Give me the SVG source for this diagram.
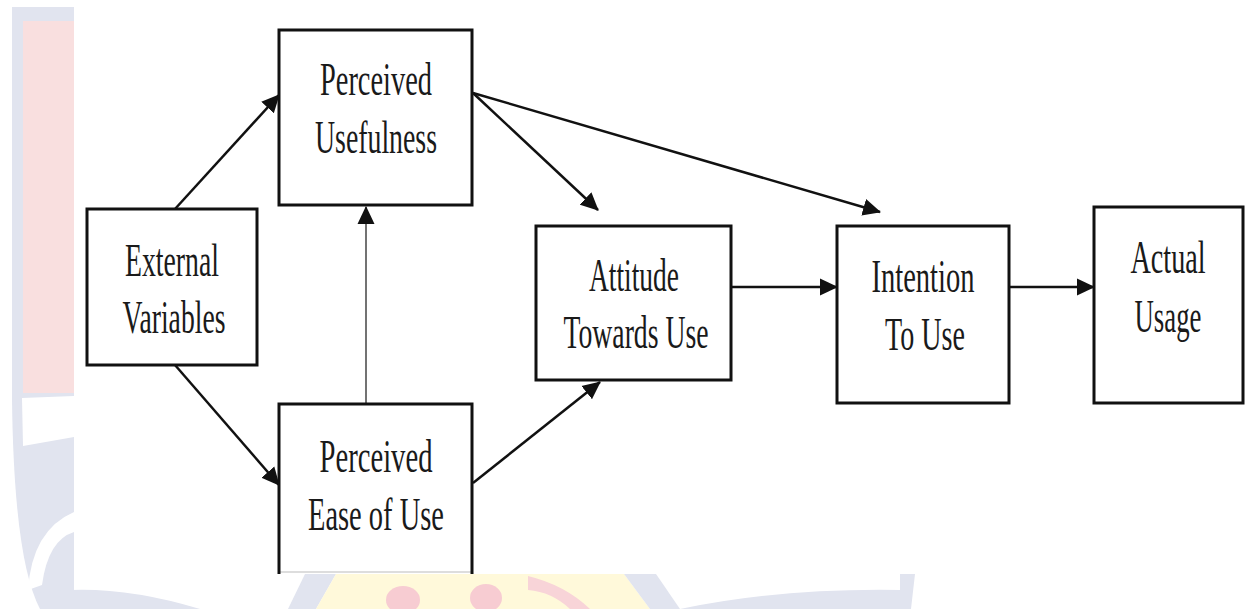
<svg xmlns="http://www.w3.org/2000/svg" width="1245" height="609" viewBox="0 0 1245 609">
  <defs>
    <marker id="arrow" markerUnits="userSpaceOnUse" markerWidth="18" markerHeight="18" viewBox="0 0 18 18" refX="17" refY="9" orient="auto">
      <path d="M0,0.5 L18,9 L0,17.5 Z" fill="#111"/>
    </marker>
    <style>
      .box { fill: #ffffff; stroke: #111; stroke-width: 3; }
      .lbl { font-family: "Liberation Serif", "Times New Roman", serif; font-size: 47px; fill: #1a1a1a; text-anchor: middle; }
      .edge { stroke: #111; stroke-width: 2.5; fill: none; marker-end: url(#arrow); }
      .thin { stroke: #444; stroke-width: 1.5; fill: none; marker-end: url(#arrow); }
    </style>
  </defs>

  <rect x="0" y="0" width="1245" height="609" fill="#ffffff"/>

  <g id="watermark">
    <path d="M12,7 L74,7 L74,609 L40,609 Q14,560 12,400 Z" fill="#e1e4ef"/>
    <rect x="23" y="21" width="51" height="372" fill="#f9dfdf"/>
    <path d="M22,398 L74,396 L74,437 L23,446 Z" fill="#ffffff"/>
    <path d="M74,512 L74,532 Q48,540 42,585 L28,590 Q32,530 74,512 Z" fill="#ffffff"/>
    <path d="M40,593 Q110,582 200,609 L40,609 Z" fill="#e1e4ef"/>
    <path d="M305,574 L336,574 L316,609 L288,609 Z" fill="#e1e4ef"/>
    <path d="M336,574 L624,574 L650,609 L316,609 Z" fill="#fff9da"/>
    <ellipse cx="403" cy="600" rx="17" ry="14" fill="#f7ccd2"/>
    <ellipse cx="486" cy="598" rx="16" ry="14" fill="#f7ccd2"/>
    <path d="M528,576 Q565,585 590,609 L570,609 Q552,592 528,590 Z" fill="#f8d4d8"/>
    <path d="M624,574 L656,574 L680,609 L650,609 Z" fill="#e1e4ef"/>
    <path d="M680,609 Q780,588 900,590 L900,574 L915,574 L911,609 Z" fill="#e1e4ef"/>
  </g>

  <rect x="74" y="0" width="1171" height="574" fill="#ffffff"/>

  <g id="connectors">
    <line class="edge" x1="175" y1="209" x2="279" y2="95"/>
    <line class="edge" x1="175" y1="365" x2="279" y2="485"/>
    <line class="thin" x1="366" y1="404" x2="366" y2="207"/>
    <line class="edge" x1="473" y1="93" x2="598" y2="210"/>
    <line class="edge" x1="473" y1="93" x2="880" y2="212"/>
    <line class="edge" x1="473" y1="483" x2="600" y2="382"/>
    <line class="edge" x1="731" y1="287" x2="837" y2="287"/>
    <line class="edge" x1="1009" y1="287" x2="1094" y2="287"/>
  </g>

  <g id="perceived-usefulness">
    <rect class="box" x="279" y="30" width="193" height="175"/>
    <text class="lbl" x="376" y="95" textLength="112" lengthAdjust="spacingAndGlyphs">Perceived</text>
    <text class="lbl" x="376" y="153" textLength="122" lengthAdjust="spacingAndGlyphs">Usefulness</text>
  </g>

  <g id="external-variables">
    <rect class="box" x="87" y="209" width="170" height="156"/>
    <text class="lbl" x="172" y="276" textLength="94" lengthAdjust="spacingAndGlyphs">External</text>
    <text class="lbl" x="174" y="333" textLength="103" lengthAdjust="spacingAndGlyphs">Variables</text>
  </g>

  <g id="perceived-ease-of-use">
    <rect x="279" y="404" width="193" height="168" fill="#ffffff"/>
    <line x1="279" y1="572" x2="472" y2="572" stroke="#bbb" stroke-width="1"/>
    <path d="M279,574 V404 H472 V574" fill="none" stroke="#111" stroke-width="3"/>
    <text class="lbl" x="376" y="472" textLength="113" lengthAdjust="spacingAndGlyphs">Perceived</text>
    <text class="lbl" x="376" y="530" textLength="136" lengthAdjust="spacingAndGlyphs">Ease of Use</text>
  </g>

  <g id="attitude-towards-use">
    <rect class="box" x="536" y="226" width="195" height="154"/>
    <text class="lbl" x="634" y="291" textLength="90" lengthAdjust="spacingAndGlyphs">Attitude</text>
    <text class="lbl" x="636" y="348" textLength="145" lengthAdjust="spacingAndGlyphs">Towards Use</text>
  </g>

  <g id="intention-to-use">
    <rect class="box" x="837" y="226" width="172" height="177"/>
    <text class="lbl" x="923" y="292" textLength="103" lengthAdjust="spacingAndGlyphs">Intention</text>
    <text class="lbl" x="925" y="350" textLength="80" lengthAdjust="spacingAndGlyphs">To Use</text>
  </g>

  <g id="actual-usage">
    <rect class="box" x="1094" y="207" width="149" height="196"/>
    <text class="lbl" transform="translate(1168,273) scale(0.6,1)" x="0" y="0">Actual</text>
    <text class="lbl" transform="translate(1168,332) scale(0.57,1)" x="0" y="0">Usage</text>
  </g>
</svg>
